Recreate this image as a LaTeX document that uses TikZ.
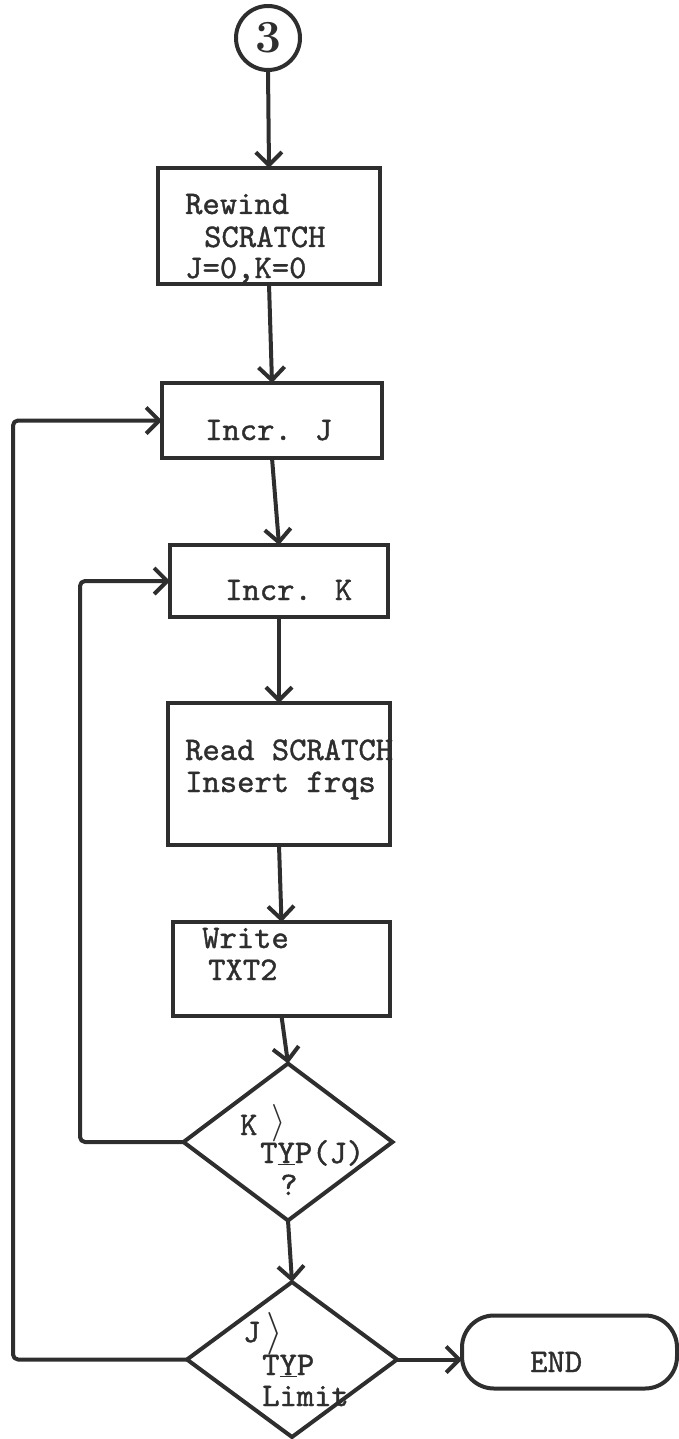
\documentclass[tikz,border=0pt]{standalone}
\usepackage{fontspec}
\usepackage{graphicx}
\newfontfamily\tw[FakeBold=1.2]{lmmono10-regular.otf}
\usetikzlibrary{shapes.geometric,arrows.meta}
\definecolor{ink}{HTML}{2E2E2E}
\begin{document}
\begin{tikzpicture}[x=1pt,y=-1pt,
  box/.style={draw=ink, line width=4pt, rectangle, inner sep=0pt, outer sep=0pt},
  dec/.style={draw=ink, line width=4pt, diamond, inner sep=0pt, outer sep=0pt},
  term/.style={draw=ink, line width=4pt, rectangle, rounded corners=32pt, inner sep=0pt, outer sep=0pt},
  lbl/.style={font=\tw\fontsize{33}{33}\selectfont, text=ink, anchor=base west, inner sep=0pt},
  ang/.style={text=ink, anchor=west, inner sep=0pt},
  arr/.style={draw=ink, line width=4pt, line join=round, -{Straight Barb[length=13pt,width=26pt]}}]
\useasboundingbox (0,0) rectangle (678,1439);
% connector circle
\node[draw=ink, line width=4pt, circle, minimum size=64pt, inner sep=0pt, outer sep=0pt,
      font=\bfseries\fontsize{46}{46}\selectfont, text=ink] (c3) at (268,38) {3};
% boxes
\node[box, minimum width=222pt, minimum height=116pt] (rew) at (269,226) {};
\node[box, minimum width=220pt, minimum height=75pt] (incj) at (272,420.5) {};
\node[box, minimum width=218pt, minimum height=72pt] (inck) at (279,581) {};
\node[box, minimum width=222pt, minimum height=142pt] (read) at (279,774) {};
\node[box, minimum width=217pt, minimum height=94pt] (wrt) at (281.5,969) {};
\node[dec, minimum width=209pt, minimum height=157pt] (d1) at (288,1142) {};
\node[dec, minimum width=210pt, minimum height=155pt] (d2) at (292,1359.5) {};
\node[term, minimum width=215pt, minimum height=73pt] (end) at (569.5,1352) {};
% texts
\node[lbl] (t1) at (185,214) {Rewind};
\node[lbl] (t2) at (204,247) {SCRATCH};
\node[lbl] (t3) at (185,278) {J=0,K=0};
\node[lbl] (t4) at (205,440) {Incr. J};
\node[lbl] (t5) at (225,600) {Incr. K};
\node[lbl] (t6) at (185,760) {Read SCRATCH};
\node[lbl] (t7) at (185,792) {Insert frqs};
\node[lbl] (t8) at (202,948) {Write};
\node[lbl] (t9) at (208,980) {TXT2};
\node[lbl] (t10) at (240,1135) {K};
\node[ang] (a1) at (271,1123) {\resizebox{!}{28pt}{$\rangle$}};
\node[lbl] (t11) at (260,1163) {T\underline{Y}P(J)};
\node[lbl] (t12) at (280,1195) {?};
\node[lbl] (t13) at (243,1342) {J};
\node[ang] (a2) at (266,1334) {\resizebox{!}{32pt}{$\rangle$}};
\node[lbl] (t14) at (262,1375) {T\underline{Y}P};
\node[lbl] (t15) at (262,1406) {Limit};
\node[lbl] (t16) at (530,1372) {END};
% main flow
\draw[arr] (c3.south) -- (rew.north);
\draw[arr] (rew.south) -- (incj.north);
\draw[arr] (incj.south) -- (inck.north);
\draw[arr] (inck.south) -- (read.north);
\draw[arr] (read.south) -- (wrt.north);
\draw[arr] (wrt.south) -- (d1.north);
\draw[arr] (d1.south) -- (d2.north);
\draw[arr] (d2.east) -- (d2.east -| end.west);
% loops
\coordinate (kx) at (80,0);
\coordinate (jx) at (13,0);
\draw[arr, rounded corners=5pt] (d1.west) -- (d1.west -| kx) |- (inck.west);
\draw[arr, rounded corners=5pt] (d2.west) -- (d2.west -| jx) |- (incj.west);
\end{tikzpicture}
\end{document}
